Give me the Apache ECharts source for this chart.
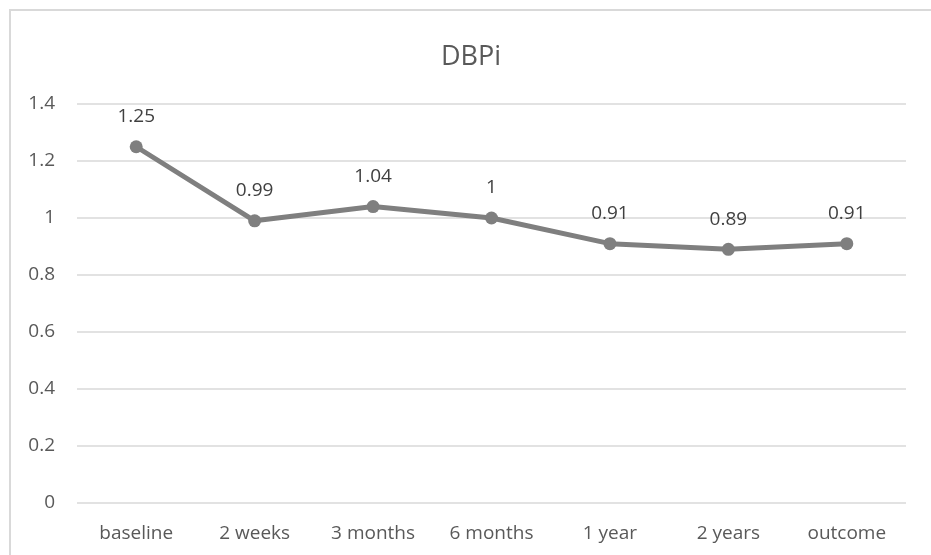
<!DOCTYPE html>
<html><head><meta charset="utf-8">
<script src="https://cdn.jsdelivr.net/npm/echarts@6/dist/echarts.min.js"></script>
<style>html,body{margin:0;padding:0;background:#fff}#c{width:931px;height:555px}</style>
</head><body><div id="c"></div>
<script>
const categories = ['baseline','2 weeks','3 months','6 months','1 year','2 years','outcome'];
const values = [1.25, 0.99, 1.04, 1, 0.91, 0.89, 0.91];
const chart = echarts.init(document.getElementById('c'));
const font = '"Open Sans", sans-serif';
chart.setOption({
  animation: false,
  backgroundColor: '#fff',
  graphic: [{type:'rect', shape:{x:10, y:10, width:1000, height:1000}, style:{fill:'none', stroke:'#d9d9d9', lineWidth:2}, silent:true}],
  title: {text:'DBPi', left:466, textAlign:'center', top:39, textStyle:{fontFamily:font, fontSize:27, fontWeight:'normal', color:'#595959'}},
  grid: {left:77, right:25, top:104, bottom:52},
  xAxis: {type:'category', data:categories, axisLine:{show:false}, axisTick:{show:false},
    axisLabel:{fontFamily:font, fontSize:19, color:'#595959', margin:21}},
  yAxis: {type:'value', min:0, max:1.4, interval:0.2,
    axisLabel:{fontFamily:font, fontSize:19, color:'#595959', margin:22, formatter: v => String(Math.round(v*10)/10)},
    splitLine:{lineStyle:{color:'#d9d9d9', width:1.5}}},
  series: [{type:'line', data:values, symbol:'circle', symbolSize:13,
    lineStyle:{color:'#7f7f7f', width:5}, itemStyle:{color:'#7f7f7f'},
    label:{show:true, position:'top', distance:14, fontFamily:font, fontSize:19, color:'#404040'}}]
});
</script></body></html>
